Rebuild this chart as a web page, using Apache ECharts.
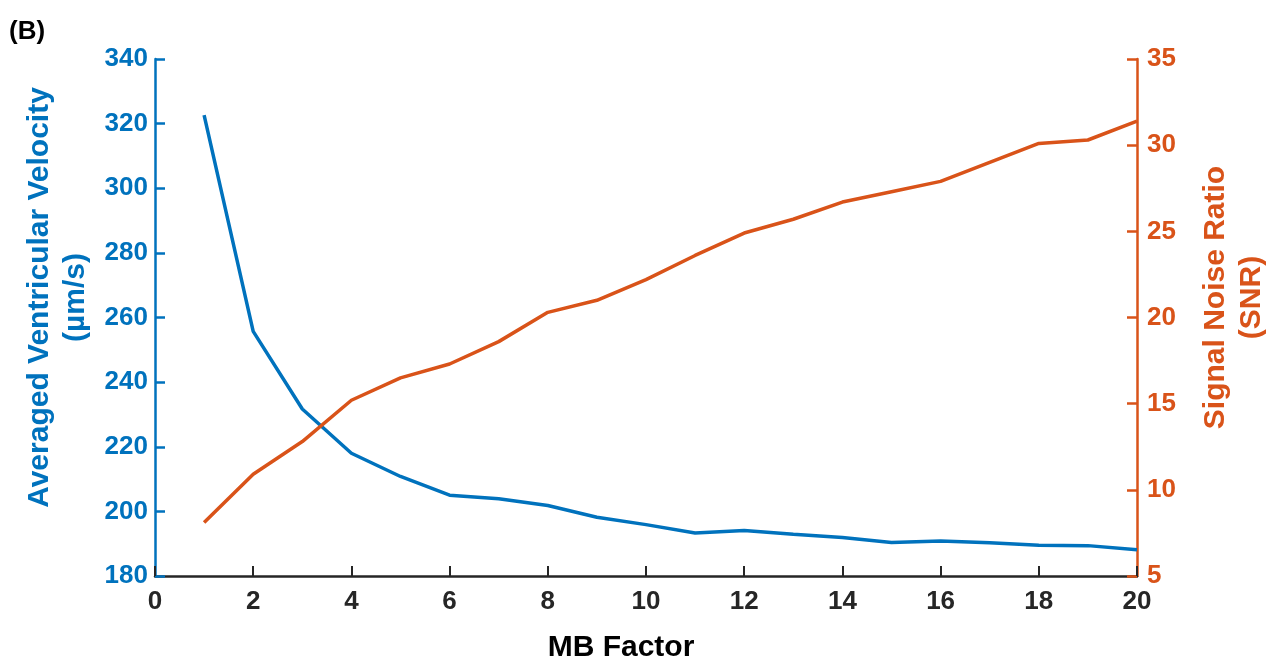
<!DOCTYPE html>
<html>
<head>
<meta charset="utf-8">
<script src="https://cdn.jsdelivr.net/npm/echarts@6/dist/echarts.min.js"></script>
<style>
html,body{margin:0;padding:0;background:#fff;}
#chart{width:1266px;height:659px;}
</style>
</head>
<body>
<div id="chart"></div>
<script>
const mbFactor = [1,2,3,4,5,6,7,8,9,10,11,12,13,14,15,16,17,18,19,20];
const velocity = [322.6,255.7,231.7,218.0,210.8,205.0,203.9,201.8,198.2,195.9,193.3,194.1,192.9,191.9,190.4,190.8,190.3,189.5,189.4,188.1];
const snr = [8.1,10.9,12.8,15.2,16.5,17.3,18.6,20.3,21.0,22.2,23.6,24.9,25.7,26.7,27.3,27.9,29.0,30.1,30.3,31.4];

const BLUE = '#0072BD', ORANGE = '#D95319', DARK = '#262626';
const FONT = '"Liberation Sans", Arial, Helvetica, sans-serif';

const chart = echarts.init(document.getElementById('chart'), null, {renderer: 'canvas'});
chart.setOption({
  animation: false,
  backgroundColor: '#ffffff',
  title: {
    text: '(B)', left: 4, top: 14,
    textStyle: {fontFamily: FONT, fontWeight: 'bold', fontSize: 26, color: '#000'}
  },
  grid: {left: 155, right: 129, top: 59, bottom: 83, containLabel: false, outerBoundsMode: 'none'},
  xAxis: {
    type: 'value', min: 0, max: 20, interval: 2,
    name: 'MB Factor', nameLocation: 'middle', nameGap: 57,
    nameTextStyle: {fontFamily: FONT, fontWeight: 'bold', fontSize: 30, color: '#000', padding: [0, 50, 0, 0]},
    axisLine: {show: true, onZero: false, lineStyle: {color: DARK, width: 2.5}},
    axisTick: {show: true, inside: true, length: 10, lineStyle: {color: DARK, width: 2}},
    axisLabel: {margin: 13, fontFamily: FONT, fontWeight: 'bold', fontSize: 26, color: DARK},
    splitLine: {show: false}
  },
  yAxis: [
    {
      type: 'value', position: 'left', min: 180, max: 340, interval: 20,
      name: 'Averaged Ventricular Velocity\n(µm/s)', nameLocation: 'middle', nameGap: 52, nameRotate: 90,
      nameTextStyle: {fontFamily: FONT, fontWeight: 'bold', fontSize: 30, lineHeight: 36, color: BLUE, padding: [0, 0, 0, 40]},
      axisLine: {show: true, lineStyle: {color: BLUE, width: 2.5}},
      axisTick: {show: true, inside: true, length: 10, lineStyle: {color: BLUE, width: 2.5}},
      axisLabel: {margin: 7, fontFamily: FONT, fontWeight: 'bold', fontSize: 26, color: BLUE},
      splitLine: {show: false}
    },
    {
      type: 'value', position: 'right', min: 5, max: 35, interval: 5,
      name: 'Signal Noise Ratio\n(SNR)', nameLocation: 'middle', nameGap: 61, nameRotate: 90,
      nameTextStyle: {fontFamily: FONT, fontWeight: 'bold', fontSize: 30, lineHeight: 36, color: ORANGE, padding: [0, 0, 0, 40]},
      axisLine: {show: true, lineStyle: {color: ORANGE, width: 2.5}},
      axisTick: {show: true, inside: true, length: 10, lineStyle: {color: ORANGE, width: 2.5}},
      axisLabel: {margin: 10, fontFamily: FONT, fontWeight: 'bold', fontSize: 26, color: ORANGE},
      splitLine: {show: false}
    }
  ],
  series: [
    {
      name: 'Averaged Ventricular Velocity', type: 'line', yAxisIndex: 0,
      data: mbFactor.map((x, i) => [x, velocity[i]]),
      showSymbol: false, symbol: 'none',
      lineStyle: {color: BLUE, width: 3.5}, itemStyle: {color: BLUE}
    },
    {
      name: 'SNR', type: 'line', yAxisIndex: 1,
      data: mbFactor.map((x, i) => [x, snr[i]]),
      showSymbol: false, symbol: 'none',
      lineStyle: {color: ORANGE, width: 3.5}, itemStyle: {color: ORANGE}
    }
  ]
});
</script>
</body>
</html>
